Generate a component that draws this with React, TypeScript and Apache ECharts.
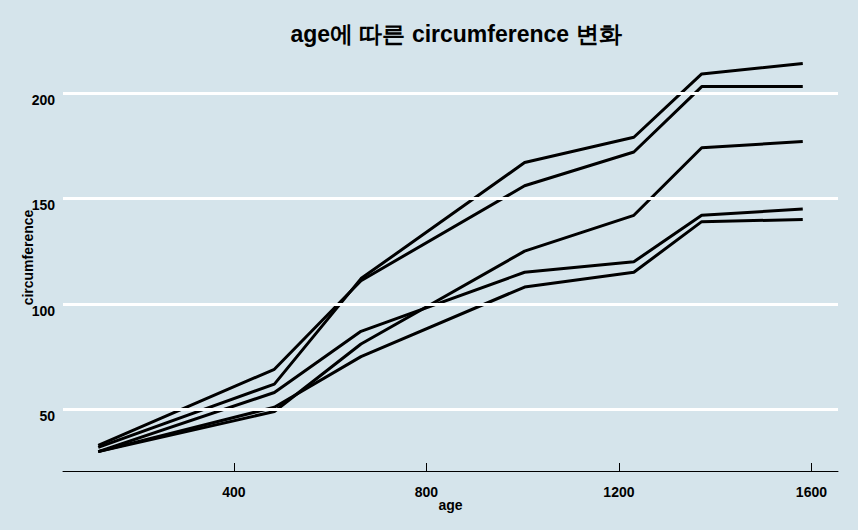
import React, { useEffect, useRef } from "react";
import * as echarts from "echarts";

const ages = [118, 484, 664, 1004, 1231, 1372, 1582];
const tree1 = [30, 58, 87, 115, 120, 142, 145];
const tree2 = [33, 69, 111, 156, 172, 203, 203];
const tree3 = [30, 51, 75, 108, 115, 139, 140];
const tree4 = [32, 62, 112, 167, 179, 209, 214];
const tree5 = [30, 49, 81, 125, 142, 174, 177];
const trees = [tree1, tree2, tree3, tree4, tree5];
const xTicks = [400, 800, 1200, 1600];
const yTicks = [50, 100, 150, 200];

export default function App() {
  const ref = useRef<HTMLDivElement>(null);
  useEffect(() => {
    if (!ref.current) return;
    const chart = echarts.init(ref.current, null, { renderer: "svg" });
    const font = "'Liberation Sans', Arial, sans-serif";
    const series: any[] = [
      {
        type: "line",
        data: [],
        z: 1,
        silent: true,
        markLine: {
          silent: true,
          symbol: "none",
          label: { show: false },
          lineStyle: { color: "#ffffff", width: 3, type: "solid" },
          data: yTicks.map((v) => ({ yAxis: v })),
        },
      },
    ];
    trees.forEach((t, i) => {
      series.push({
        type: "line",
        name: "Tree " + (i + 1),
        data: ages.map((a, j) => [a, t[j]]),
        showSymbol: false,
        symbol: "none",
        z: 3,
        lineStyle: { color: "#000000", width: 3 },
      });
    });
    chart.setOption({
      animation: false,
      backgroundColor: "#d5e4eb",
      title: {
        text: "age에 따른 circumference 변화",
        left: 451,
        top: 17,
        textAlign: "center",
        textStyle: { fontFamily: font, fontWeight: "bold", fontSize: 23, color: "#000" },
      },
      grid: { left: 63, right: 20, top: 44, bottom: 59, containLabel: false },
      xAxis: {
        type: "value",
        min: 44.8,
        max: 1655.2,
        name: "age",
        nameLocation: "middle",
        nameGap: 27,
        nameMoveOverlap: false,
        nameTextStyle: { fontFamily: font, fontWeight: "bold", fontSize: 14, color: "#000" },
        axisLine: { show: true, onZero: false, lineStyle: { color: "#000", width: 1 } },
        axisTick: { show: true, inside: true, length: 8, customValues: xTicks, lineStyle: { color: "#000" } },
        axisLabel: {
          customValues: xTicks,
          margin: 14,
          formatter: (v: number) => String(v),
          fontFamily: font,
          fontWeight: "bold",
          fontSize: 14,
          color: "#000",
        },
        splitLine: { show: false },
      },
      yAxis: {
        type: "value",
        min: 20.8,
        max: 223.2,
        name: "circumference",
        nameLocation: "middle",
        nameGap: 28,
        nameRotate: 90,
        nameMoveOverlap: false,
        nameTextStyle: { fontFamily: font, fontWeight: "bold", fontSize: 14, color: "#000" },
        axisLine: { show: false },
        axisTick: { show: false },
        splitLine: { show: false },
        axisLabel: {
          customValues: yTicks,
          margin: 8,
          formatter: (v: number) => String(v),
          verticalAlign: "top",
          fontFamily: font,
          fontWeight: "bold",
          fontSize: 14,
          color: "#000",
        },
      },
      series,
    });
    return () => chart.dispose();
  }, []);
  return <div ref={ref} style={{ width: 858, height: 530, position: "absolute", left: 0, top: 0 }} />;
}
